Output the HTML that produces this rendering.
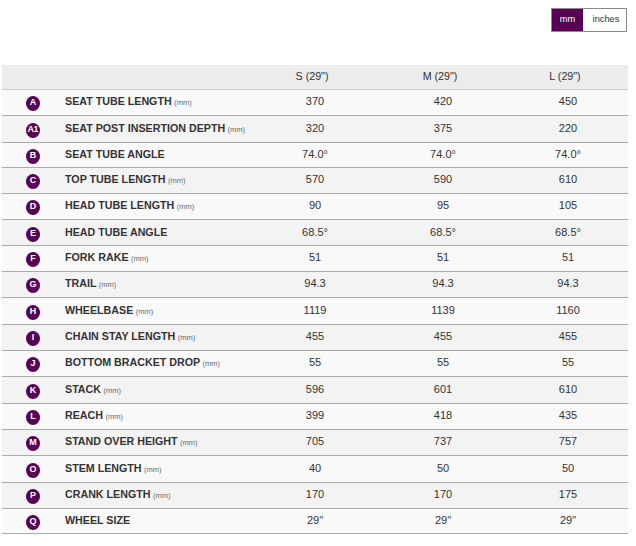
<!DOCTYPE html>
<html><head><meta charset="utf-8"><style>
*{margin:0;padding:0;box-sizing:border-box}
html,body{width:636px;height:546px;background:#fff;overflow:hidden}
body{position:relative;font-family:"Liberation Sans",sans-serif;color:#333}
.tog{position:absolute;left:551px;top:8px;width:76px;height:24px;border:1px solid #8a8a8a;background:#fff}
.tog .mm{position:absolute;left:0;top:0;width:31px;height:22px;background:#570054;color:#fff;font-size:9.3px;line-height:20px;text-align:center}
.tog .in{position:absolute;left:32.5px;top:-1px;width:43px;height:22px;color:#333;font-size:9.3px;line-height:22px;text-align:center}
.hd{position:absolute;left:2px;top:65px;width:626px;height:25px;background:#ececec;border-bottom:1px solid #cbcbcb}
.hd span{position:absolute;top:-1px;font-size:10.7px;line-height:24px;text-align:center;width:120px;color:#333}
.r{position:absolute;left:2px;width:626px;border-bottom:1px solid #aaa}
.r.o{background:#f9f9f9}
.r.e{background:#f3f3f3}
.c{position:absolute;left:24px;width:14px;height:15px;border-radius:50%;background:#570054;color:#fff;font-weight:bold;font-size:9px;line-height:13px;text-align:center}
.n{position:absolute;left:63px;font-size:10.7px;font-weight:bold;color:#333;white-space:nowrap}
.n small{font-size:7.5px;font-weight:normal;color:#6a6a6a;margin-left:-0.5px}
.v{position:absolute;width:120px;text-align:center;font-size:11px;color:#333}
</style></head><body>
<div class="tog"><div class="mm">mm</div><div class="in">inches</div></div>
<div class="hd"><span style="left:250px">S (29")</span><span style="left:378px">M (29")</span><span style="left:503px">L (29")</span></div>
<div class="r o" style="top:90px;height:26px"><div class="c" style="top:6px">A</div><div class="n" style="top:-1px;line-height:25px">SEAT TUBE LENGTH <small>(mm)</small></div><div class="v" style="left:253px;top:-1px;line-height:25px">370</div><div class="v" style="left:381px;top:-1px;line-height:25px">420</div><div class="v" style="left:506px;top:-1px;line-height:25px">450</div></div>
<div class="r e" style="top:116px;height:27px"><div class="c" style="top:7px;letter-spacing:-0.6px;text-indent:-0.6px">A1</div><div class="n" style="top:-1px;line-height:26px">SEAT POST INSERTION DEPTH <small>(mm)</small></div><div class="v" style="left:253px;top:-1px;line-height:26px">320</div><div class="v" style="left:381px;top:-1px;line-height:26px">375</div><div class="v" style="left:506px;top:-1px;line-height:26px">220</div></div>
<div class="r o" style="top:143px;height:25px"><div class="c" style="top:6px">B</div><div class="n" style="top:-1px;line-height:24px">SEAT TUBE ANGLE</div><div class="v" style="left:253px;top:-1px;line-height:24px">74.0°</div><div class="v" style="left:381px;top:-1px;line-height:24px">74.0°</div><div class="v" style="left:506px;top:-1px;line-height:24px">74.0°</div></div>
<div class="r e" style="top:168px;height:26px"><div class="c" style="top:6px">C</div><div class="n" style="top:-1px;line-height:25px">TOP TUBE LENGTH <small>(mm)</small></div><div class="v" style="left:253px;top:-1px;line-height:25px">570</div><div class="v" style="left:381px;top:-1px;line-height:25px">590</div><div class="v" style="left:506px;top:-1px;line-height:25px">610</div></div>
<div class="r o" style="top:194px;height:26px"><div class="c" style="top:6px">D</div><div class="n" style="top:-1px;line-height:25px">HEAD TUBE LENGTH <small>(mm)</small></div><div class="v" style="left:253px;top:-1px;line-height:25px">90</div><div class="v" style="left:381px;top:-1px;line-height:25px">95</div><div class="v" style="left:506px;top:-1px;line-height:25px">105</div></div>
<div class="r e" style="top:220px;height:26px"><div class="c" style="top:7px">E</div><div class="n" style="top:0px;line-height:25px">HEAD TUBE ANGLE</div><div class="v" style="left:253px;top:0px;line-height:25px">68.5°</div><div class="v" style="left:381px;top:0px;line-height:25px">68.5°</div><div class="v" style="left:506px;top:0px;line-height:25px">68.5°</div></div>
<div class="r o" style="top:246px;height:26px"><div class="c" style="top:6px">F</div><div class="n" style="top:-1px;line-height:25px">FORK RAKE <small>(mm)</small></div><div class="v" style="left:253px;top:-1px;line-height:25px">51</div><div class="v" style="left:381px;top:-1px;line-height:25px">51</div><div class="v" style="left:506px;top:-1px;line-height:25px">51</div></div>
<div class="r e" style="top:272px;height:26px"><div class="c" style="top:6px">G</div><div class="n" style="top:-1px;line-height:25px">TRAIL <small>(mm)</small></div><div class="v" style="left:253px;top:-1px;line-height:25px">94.3</div><div class="v" style="left:381px;top:-1px;line-height:25px">94.3</div><div class="v" style="left:506px;top:-1px;line-height:25px">94.3</div></div>
<div class="r o" style="top:298px;height:27px"><div class="c" style="top:7px">H</div><div class="n" style="top:-1px;line-height:26px">WHEELBASE <small>(mm)</small></div><div class="v" style="left:253px;top:-1px;line-height:26px">1119</div><div class="v" style="left:381px;top:-1px;line-height:26px">1139</div><div class="v" style="left:506px;top:-1px;line-height:26px">1160</div></div>
<div class="r e" style="top:325px;height:26px"><div class="c" style="top:6px">I</div><div class="n" style="top:-1px;line-height:25px">CHAIN STAY LENGTH <small>(mm)</small></div><div class="v" style="left:253px;top:-1px;line-height:25px">455</div><div class="v" style="left:381px;top:-1px;line-height:25px">455</div><div class="v" style="left:506px;top:-1px;line-height:25px">455</div></div>
<div class="r o" style="top:351px;height:26px"><div class="c" style="top:6px">J</div><div class="n" style="top:-1px;line-height:25px">BOTTOM BRACKET DROP <small>(mm)</small></div><div class="v" style="left:253px;top:-1px;line-height:25px">55</div><div class="v" style="left:381px;top:-1px;line-height:25px">55</div><div class="v" style="left:506px;top:-1px;line-height:25px">55</div></div>
<div class="r e" style="top:377px;height:27px"><div class="c" style="top:7px">K</div><div class="n" style="top:-1px;line-height:26px">STACK <small>(mm)</small></div><div class="v" style="left:253px;top:-1px;line-height:26px">596</div><div class="v" style="left:381px;top:-1px;line-height:26px">601</div><div class="v" style="left:506px;top:-1px;line-height:26px">610</div></div>
<div class="r o" style="top:404px;height:26px"><div class="c" style="top:6px">L</div><div class="n" style="top:-1px;line-height:25px">REACH <small>(mm)</small></div><div class="v" style="left:253px;top:-1px;line-height:25px">399</div><div class="v" style="left:381px;top:-1px;line-height:25px">418</div><div class="v" style="left:506px;top:-1px;line-height:25px">435</div></div>
<div class="r e" style="top:430px;height:26px"><div class="c" style="top:6px">M</div><div class="n" style="top:-1px;line-height:25px">STAND OVER HEIGHT <small>(mm)</small></div><div class="v" style="left:253px;top:-1px;line-height:25px">705</div><div class="v" style="left:381px;top:-1px;line-height:25px">737</div><div class="v" style="left:506px;top:-1px;line-height:25px">757</div></div>
<div class="r o" style="top:456px;height:27px"><div class="c" style="top:7px">O</div><div class="n" style="top:-1px;line-height:26px">STEM LENGTH <small>(mm)</small></div><div class="v" style="left:253px;top:-1px;line-height:26px">40</div><div class="v" style="left:381px;top:-1px;line-height:26px">50</div><div class="v" style="left:506px;top:-1px;line-height:26px">50</div></div>
<div class="r e" style="top:483px;height:26px"><div class="c" style="top:6px">P</div><div class="n" style="top:-1px;line-height:25px">CRANK LENGTH <small>(mm)</small></div><div class="v" style="left:253px;top:-1px;line-height:25px">170</div><div class="v" style="left:381px;top:-1px;line-height:25px">170</div><div class="v" style="left:506px;top:-1px;line-height:25px">175</div></div>
<div class="r o" style="top:509px;height:25px"><div class="c" style="top:6px">Q</div><div class="n" style="top:-1px;line-height:24px">WHEEL SIZE</div><div class="v" style="left:253px;top:-1px;line-height:24px">29"</div><div class="v" style="left:381px;top:-1px;line-height:24px">29"</div><div class="v" style="left:506px;top:-1px;line-height:24px">29"</div></div>
</body></html>
